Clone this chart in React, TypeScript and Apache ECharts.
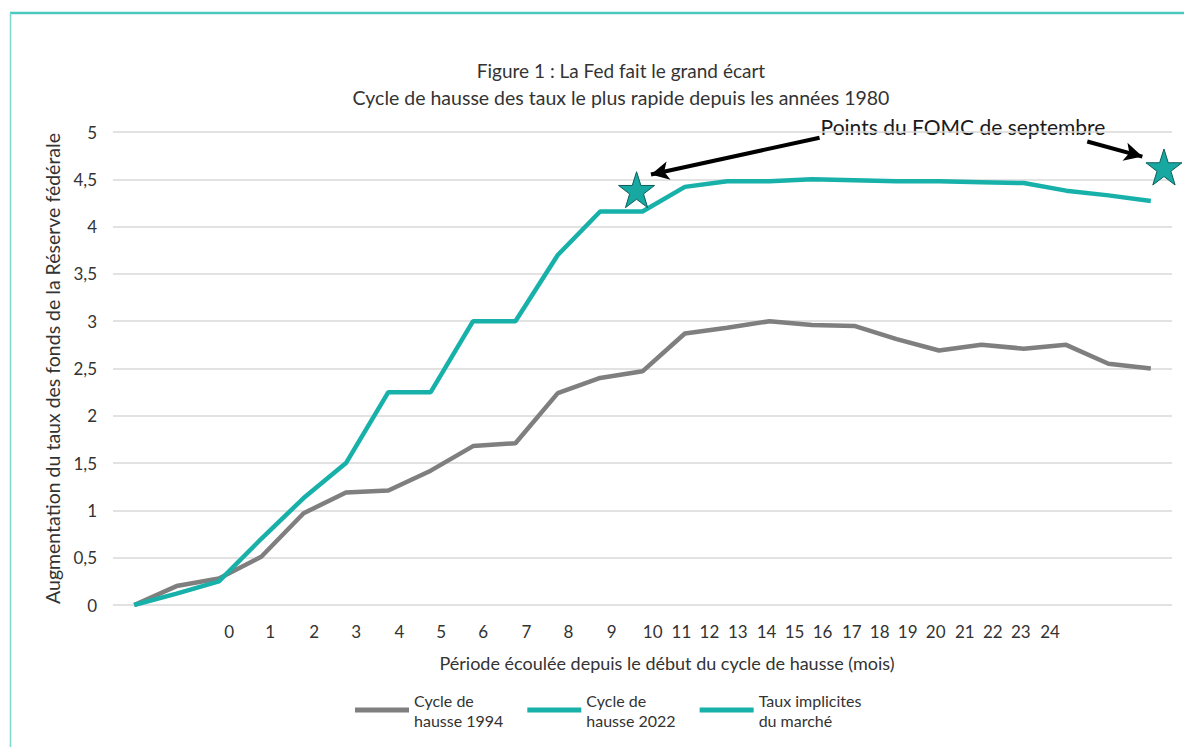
import React, { useEffect, useRef } from "react";
import * as echarts from "echarts";

// ---- Data ----
const seriesNames = ["Cycle de\nhausse 1994", "Cycle de\nhausse 2022", "Taux implicites\ndu marché"];
// months index 0..24 (data points)
const cycle1994 = [0, 0.2, 0.28, 0.51, 0.97, 1.19, 1.21, 1.42, 1.68, 1.71, 2.24, 2.4, 2.47, 2.87, 2.93, 3.0, 2.96, 2.95, 2.81, 2.69, 2.75, 2.71, 2.75, 2.55, 2.5];
const cycle2022 = [0, 0.12, 0.25, 0.7, 1.13, 1.5, 2.25, 2.25, 3.0, 3.0, 3.7, 4.16, 4.16, 4.42, 4.48, 4.48, 4.5, 4.49, 4.48, 4.48, 4.47, 4.46, 4.38, 4.33, 4.27];
// FOMC September dots (x in data-point index units, y in %)
const fomcX = [11.86, 24.31];
const fomcY = [4.39, 4.63];
// x tick labels and the positions at which the source chart prints them
const xTickLabels = ["0", "1", "2", "3", "4", "5", "6", "7", "8", "9", "10", "11", "12", "13", "14", "15", "16", "17", "18", "19", "20", "21", "22", "23", "24"];
const xTickPositions = [2.24, 3.21, 4.25, 5.24, 6.26, 7.25, 8.24, 9.26, 10.25, 11.27, 12.24, 12.92, 13.58, 14.25, 14.93, 15.59, 16.25, 16.94, 17.6, 18.26, 18.92, 19.61, 20.27, 20.93, 21.62];
const yTicks = [0, 0.5, 1, 1.5, 2, 2.5, 3, 3.5, 4, 4.5, 5];

const TEAL = "#17b1aa";
const GRAY = "#7f7f7f";
const TXT = "#333333";
const FONT = "Lato, 'Open Sans', sans-serif";
const STAR = "path://M50,0 L61.8,35.1 L98.9,35.1 L68.9,56.8 L80.3,91.9 L50,70.2 L19.7,91.9 L31.1,56.8 L1.1,35.1 L38.2,35.1 Z";

export default function App() {
  const ref = useRef<HTMLDivElement>(null);
  useEffect(() => {
    document.body.style.margin = "0";
    const chart = echarts.init(ref.current!, undefined, { renderer: "svg" });
    const option: any = {
      animation: false,
      backgroundColor: "#ffffff",
      textStyle: { fontFamily: FONT },
      grid: { left: 113, right: 12, top: 132, bottom: 142 },
      graphic: [
        { type: "line", shape: { x1: 10, y1: 13, x2: 1184, y2: 13 }, style: { stroke: "#4cc9bf", lineWidth: 2.5 } },
        { type: "line", shape: { x1: 10.5, y1: 13, x2: 10.5, y2: 747 }, style: { stroke: "#7fd8d0", lineWidth: 1.5 } },
        { type: "text", style: { text: "Figure 1 : La Fed fait le grand écart", x: 621, y: 70, textAlign: "center", textVerticalAlign: "middle", font: `19px ${FONT}`, fill: TXT } },
        { type: "text", style: { text: "Cycle de hausse des taux le plus rapide depuis les années 1980", x: 621, y: 97, textAlign: "center", textVerticalAlign: "middle", font: `19.5px ${FONT}`, fill: TXT } },
        { type: "text", style: { text: "Période écoulée depuis le début du cycle de hausse (mois)", x: 667, y: 663, textAlign: "center", textVerticalAlign: "middle", font: `18px ${FONT}`, fill: TXT } },
        { type: "text", style: { text: "Points du FOMC de septembre", x: 963, y: 126, textAlign: "center", textVerticalAlign: "middle", font: `21px ${FONT}`, fill: "#1a1a1a" } },
      ],
      legend: {
        top: 685,
        left: 350,
        itemWidth: 54,
        itemHeight: 5,
        itemGap: 24,
        icon: "rect",
        textStyle: { fontSize: 16, lineHeight: 20, color: TXT, fontFamily: FONT },
        data: [
          { name: seriesNames[0] },
          { name: seriesNames[1] },
          { name: seriesNames[2], itemStyle: { color: TEAL, borderWidth: 0, opacity: 1 } },
        ],
      },
      xAxis: {
        type: "value",
        min: -0.5,
        max: 24.5,
        axisLine: { show: false },
        axisTick: { show: false },
        splitLine: { show: false },
        axisLabel: {
          customValues: xTickPositions,
          margin: 18,
          fontSize: 17,
          color: TXT,
          formatter: (v: number) => {
            let best = 0;
            for (let i = 0; i < xTickPositions.length; i++) {
              if (Math.abs(xTickPositions[i] - v) < Math.abs(xTickPositions[best] - v)) best = i;
            }
            return xTickLabels[best];
          },
        },
      },
      yAxis: {
        type: "value",
        min: yTicks[0],
        max: yTicks[yTicks.length - 1],
        interval: 0.5,
        name: "Augmentation du taux des fonds de la Réserve fédérale",
        nameLocation: "middle",
        nameGap: 48,
        nameTextStyle: { fontSize: 19.5, color: TXT, fontFamily: FONT },
        axisLine: { show: false },
        axisTick: { show: false },
        splitLine: { lineStyle: { color: "#d9d9d9", width: 1.5 } },
        axisLabel: {
          fontSize: 17,
          color: TXT,
          margin: 16,
          formatter: (v: number) => String(v).replace(".", ","),
        },
      },
      series: [
        {
          name: seriesNames[0],
          type: "line",
          data: cycle1994.map((v, i) => [i, v]),
          symbol: "none",
          color: GRAY,
          lineStyle: { color: GRAY, width: 4.5 },
        },
        {
          name: seriesNames[1],
          type: "line",
          data: cycle2022.map((v, i) => [i, v]),
          symbol: "none",
          color: TEAL,
          lineStyle: { color: TEAL, width: 4.5 },
        },
        {
          name: seriesNames[2],
          type: "scatter",
          clip: false,
          data: fomcX.map((x, i) => [x, fomcY[i]]),
          symbol: STAR,
          symbolSize: 36,
          color: TEAL,
          itemStyle: { color: "#17a8a2", borderColor: "#0b5f5b", borderWidth: 1, opacity: 1 },
          z: 5,
          markLine: {
            silent: true,
            symbol: ["none", "arrow"],
            symbolSize: [14, 18],
            label: { show: false },
            lineStyle: { color: "#000000", width: 4, type: "solid" },
            data: [
              [{ coord: [16.18, 4.94] }, { coord: [12.2, 4.55] }],
              [{ coord: [22.5, 4.9] }, { coord: [23.8, 4.74] }],
            ],
          },
        },
      ],
    };
    chart.setOption(option);
    return () => chart.dispose();
  }, []);
  return <div ref={ref} style={{ position: "fixed", left: 0, top: 0, width: 1184, height: 747 }} />;
}
